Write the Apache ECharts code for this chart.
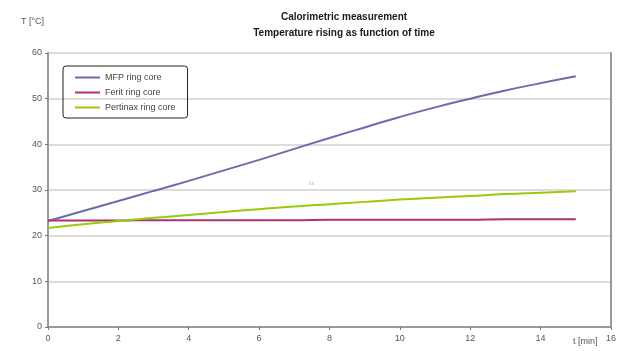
<!DOCTYPE html>
<html>
<head>
<meta charset="utf-8">
<script src="https://cdn.jsdelivr.net/npm/echarts@6/dist/echarts.min.js"></script>
<style>
  html, body { margin: 0; padding: 0; background: #fff; }
  #chart { width: 619px; height: 351px; }
</style>
</head>
<body>
<div id="chart"></div>
<script>
// Time in minutes
const timeMin = [0, 1, 2, 3, 4, 5, 6, 7, 8, 9, 10, 11, 12, 13, 14, 15];
// Temperatures in °C
const mfpCore = [23.2, 25.4, 27.6, 29.8, 32.0, 34.3, 36.6, 39.0, 41.4, 43.7, 46.0, 48.1, 50.0, 51.8, 53.4, 54.9];
const ferritCore = [23.3, 23.3, 23.3, 23.4, 23.4, 23.4, 23.4, 23.4, 23.5, 23.5, 23.5, 23.5, 23.5, 23.6, 23.6, 23.6];
const pertinaxCore = [21.7, 22.5, 23.2, 23.9, 24.5, 25.2, 25.8, 26.4, 26.9, 27.4, 27.9, 28.3, 28.7, 29.1, 29.4, 29.7];
const seriesNames = ['MFP ring core', 'Ferit ring core', 'Pertinax ring core'];

const pairs = (ys) => timeMin.map((t, i) => [t, ys[i]]);
const font = 'Liberation Sans, Arial, sans-serif';

const chart = echarts.init(document.getElementById('chart'), null, { renderer: 'canvas' });
chart.setOption({
  animation: false,
  backgroundColor: '#fff',
  textStyle: { fontFamily: font },
  title: {
    text: 'Calorimetric measurement\nTemperature rising as function of time',
    left: 339,
    top: 4,
    textAlign: 'center',
    textStyle: { fontSize: 10, fontWeight: 'bold', color: '#1a1a1a', lineHeight: 16, fontFamily: font }
  },
  grid: { left: 48, right: 6, top: 53, bottom: 24, show: false },
  legend: {
    orient: 'vertical',
    left: 63,
    top: 66,
    padding: [7, 12, 6, 12],
    itemGap: 6,
    itemWidth: 25,
    itemHeight: 2,
    icon: 'rect',
    borderColor: '#222',
    borderWidth: 1,
    borderRadius: 3,
    textStyle: { fontSize: 9, color: '#444', fontFamily: font },
    data: seriesNames
  },
  xAxis: {
    type: 'value',
    min: 0, max: 16, interval: 2,
    axisLine: { show: true, lineStyle: { color: '#999', width: 2 } },
    axisTick: { show: true, length: 3, lineStyle: { color: '#777' } },
    axisLabel: { color: '#555', fontSize: 9, margin: 7 },
    splitLine: { show: false }
  },
  yAxis: [{
    type: 'value',
    min: 0, max: 60, interval: 10,
    axisLine: { show: true, lineStyle: { color: '#999', width: 2 } },
    axisTick: { show: true, length: 3, lineStyle: { color: '#777' } },
    axisLabel: { color: '#555', fontSize: 9, margin: 6 },
    splitLine: { show: true, lineStyle: { color: '#d0d0d0', width: 1.5 } }
  }, {
    type: 'value',
    position: 'right',
    min: 0, max: 60, interval: 10,
    axisLine: { show: true, lineStyle: { color: '#999', width: 2 } },
    axisTick: { show: false },
    axisLabel: { show: false },
    splitLine: { show: false }
  }],
  graphic: [
    { type: 'text', left: 21, top: 17, style: { text: 'T [°C]', fontSize: 9, fill: '#555', fontFamily: font } },
    { type: 'text', left: 573, top: 337, style: { text: 't [min]', fontSize: 9, fill: '#555', fontFamily: font } },
    { type: 'text', left: 309, top: 181, style: { text: 'xx', fontSize: 5, fill: '#aaa', fontFamily: font } }
  ],
  series: [
    { name: seriesNames[0], type: 'line', data: pairs(mfpCore), smooth: true, showSymbol: false,
      lineStyle: { color: '#6b6bad', width: 2 }, itemStyle: { color: '#6b6bad' } },
    { name: seriesNames[1], type: 'line', data: pairs(ferritCore), smooth: true, showSymbol: false,
      lineStyle: { color: '#a8336f', width: 2 }, itemStyle: { color: '#a8336f' } },
    { name: seriesNames[2], type: 'line', data: pairs(pertinaxCore), smooth: true, showSymbol: false,
      lineStyle: { color: '#9acb0a', width: 2 }, itemStyle: { color: '#9acb0a' } }
  ]
});
</script>
</body>
</html>
